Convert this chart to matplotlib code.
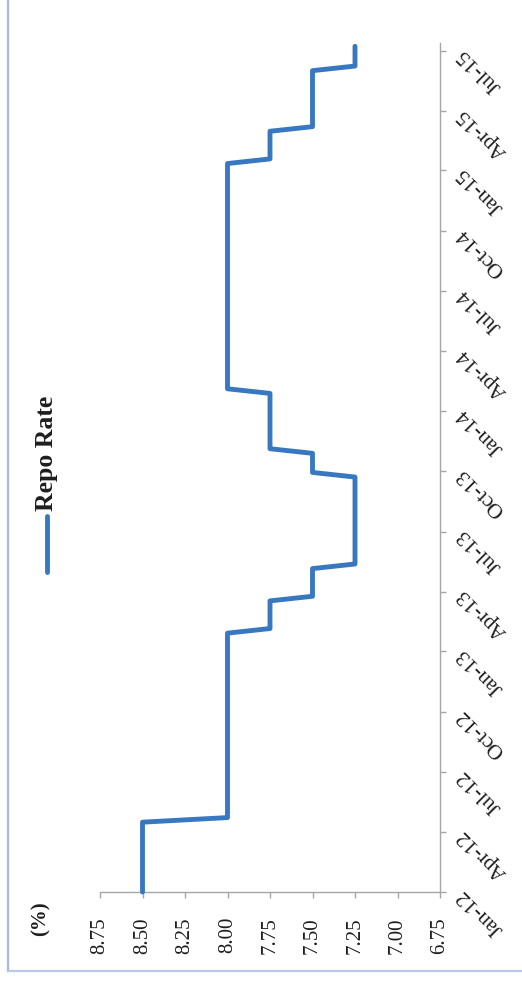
import matplotlib
matplotlib.use("Agg")
import matplotlib.pyplot as plt
import matplotlib.dates as mdates
from matplotlib.lines import Line2D
import pandas as pd

# ---- data: corners of the repo-rate step line ----
dates = ["2012-01-01", "2012-04-16", "2012-04-23",
         "2013-01-28", "2013-02-04",
         "2013-03-18", "2013-03-25",
         "2013-05-06", "2013-05-13",
         "2013-09-22", "2013-09-29",
         "2013-10-28", "2013-11-04",
         "2014-01-27", "2014-02-03",
         "2015-01-11", "2015-01-18",
         "2015-03-01", "2015-03-08",
         "2015-06-01", "2015-06-08",
         "2015-07-08"]
rates = [8.50, 8.50, 8.00,
         8.00, 7.75,
         7.75, 7.50,
         7.50, 7.25,
         7.25, 7.50,
         7.50, 7.75,
         7.75, 8.00,
         8.00, 7.75,
         7.75, 7.50,
         7.50, 7.25,
         7.25]
series_name = "Repo Rate"
axis_unit = "(%)"
date_ticks = ["2012-01-01", "2012-04-01", "2012-07-01", "2012-10-01",
              "2013-01-01", "2013-04-01", "2013-07-01", "2013-10-01",
              "2014-01-01", "2014-04-01", "2014-07-01", "2014-10-01",
              "2015-01-01", "2015-04-01", "2015-07-01"]
date_labels = ["Jan-12", "Apr-12", "Jul-12", "Oct-12",
               "Jan-13", "Apr-13", "Jul-13", "Oct-13",
               "Jan-14", "Apr-14", "Jul-14", "Oct-14",
               "Jan-15", "Apr-15", "Jul-15"]
value_ticks = [8.75, 8.50, 8.25, 8.00, 7.75, 7.50, 7.25, 7.00, 6.75]

LINE_COLOR = "#3878c0"
AXIS_COLOR = "#a6a6a6"
TEXT_COLOR = "#1e1e1e"
SERIF = ["Liberation Serif", "DejaVu Serif"]

W, H = 522, 983
fig = plt.figure(figsize=(W / 100, H / 100), dpi=100)
fig.patch.set_facecolor("white")

# axes rectangle (pixel coords from the reference)
x0, x1 = 100, 440
y_bot, y_top = 892, 43
ax = fig.add_axes([x0 / W, (H - y_bot) / H, (x1 - x0) / W, (y_bot - y_top) / H])

d = mdates.date2num(pd.to_datetime(dates))
ax.plot(rates, d, color=LINE_COLOR, lw=3.5, solid_capstyle="round",
        solid_joinstyle="round", zorder=3, clip_on=False)

ax.set_xlim(8.75, 6.75)
ax.set_ylim(mdates.date2num(pd.Timestamp("2012-01-01")),
            mdates.date2num(pd.Timestamp("2015-07-13")))

for s in ["top", "left"]:
    ax.spines[s].set_visible(False)
for s in ["bottom", "right"]:
    ax.spines[s].set_color(AXIS_COLOR)
    ax.spines[s].set_linewidth(1.0)

ax.set_xticks(value_ticks)
ax.set_xticklabels([f"{v:.2f}" for v in value_ticks])
ax.set_yticks(mdates.date2num(pd.to_datetime(date_ticks)))
ax.set_yticklabels(date_labels)

ax.yaxis.tick_right()
ax.tick_params(axis="x", direction="out", length=4.5, width=1.0, color=AXIS_COLOR,
               pad=13.5, labelcolor=TEXT_COLOR)
ax.tick_params(axis="y", direction="out", length=4.5, width=1.0, color=AXIS_COLOR,
               pad=10, labelcolor=TEXT_COLOR)

for lab in ax.get_xticklabels():
    lab.set_rotation(90)
    lab.set_fontfamily(SERIF)
    lab.set_fontsize(15)
    lab.set_va("top")
    lab.set_ha("center")

for lab in ax.get_yticklabels():
    lab.set_rotation(135)
    lab.set_rotation_mode("anchor")
    lab.set_ha("right")
    lab.set_va("center")
    lab.set_fontfamily(SERIF)
    lab.set_fontsize(15.5)

# legend (rotated)
fig.add_artist(Line2D([47 / W, 47 / W], [(H - 572) / H, (H - 516) / H],
                      color=LINE_COLOR, lw=3.5, solid_capstyle="round"))
fig.text(47 / W, (H - 511) / H, series_name, rotation=90, ha="center", va="bottom",
         fontsize=18.5, fontweight="bold", family=SERIF, color=TEXT_COLOR)

# unit label
fig.text(41 / W, (H - 919) / H, axis_unit, rotation=90, ha="center", va="center",
         fontsize=15, fontweight="bold", family=SERIF, color=TEXT_COLOR)

# outer frame lines
fig.add_artist(Line2D([8 / W, 8 / W], [(H - 971) / H, 1.0], color="#a3b8e2", lw=1.6))
fig.add_artist(Line2D([8 / W, 1.0], [(H - 971) / H, (H - 971) / H], color="#b8c9ea", lw=1.6))

fig.savefig("out.png", dpi=100, facecolor="white")
